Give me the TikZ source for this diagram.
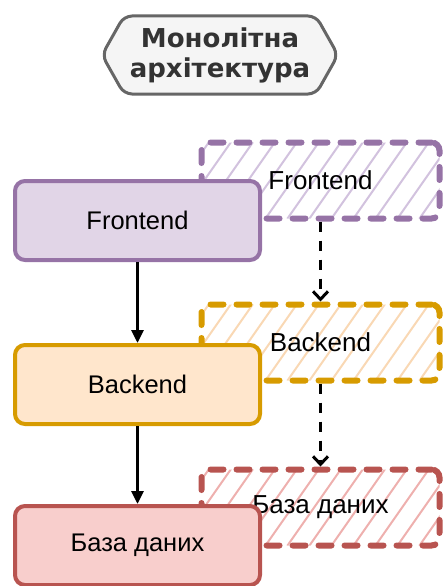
\documentclass[tikz,border=0pt]{standalone}
\usepackage{fontspec}
\setmainfont{Liberation Sans}
\newfontfamily\titlefont{DejaVu Sans}
\usetikzlibrary{arrows.meta,positioning,backgrounds}
\definecolor{frfill}{HTML}{E1D5E7}\definecolor{frline}{HTML}{9673A6}\definecolor{frhatch}{HTML}{D2C2DE}
\definecolor{befill}{HTML}{FFE6CC}\definecolor{beline}{HTML}{D79B00}\definecolor{behatch}{HTML}{F9D8B4}
\definecolor{dbfill}{HTML}{F8CECC}\definecolor{dbline}{HTML}{B85450}\definecolor{dbhatch}{HTML}{EEB0AE}
\begin{document}
\begin{tikzpicture}[x=1pt,y=-1pt,
    box/.style={draw=#1line,fill=#1fill,line width=4pt,rounded corners=10pt,minimum width=245pt,minimum height=79pt,font=\fontsize{25.5}{30}\selectfont},
    sk/.style={draw=#1line,line width=6pt,line cap=round,dash pattern=on 13pt off 13pt,rounded corners=8pt,minimum width=238pt,minimum height=76pt,font=\fontsize{26}{30}\selectfont,
        path picture={\foreach \k in {0,...,16} \draw[#1hatch,line width=2pt,solid] ([xshift=\k*22pt-90pt]path picture bounding box.south west) -- ++(55:140pt);}},
    arr/.style={-{Triangle[length=13pt,width=12pt]},line width=3pt},
    darr/.style={-{Straight Barb[length=8pt,width=15pt,line width=3pt]},line width=3pt,dash pattern=on 10pt off 9pt}]
    \useasboundingbox (0,0) rectangle (442,586);
    % title
    \node[minimum width=192pt,minimum height=78pt,inner sep=0pt,outer sep=0pt,align=center,text=black!80,
        font=\titlefont\bfseries\fontsize{26}{30}\selectfont] (title) at (220,55) {Монолітна\\архітектура};
    \begin{scope}[on background layer]
        \draw[draw=black!60,fill=black!4,line width=3pt,rounded corners=8pt] ([xshift=-22pt]title.west) -- (title.north west) -- (title.north east) -- ([xshift=22pt]title.east) -- (title.south east) -- (title.south west) -- cycle;
    \end{scope}
    % sketch boxes
    \node[sk=fr] (skfe) at (320.5,180.5) {Frontend};
    \node[sk=be] (skbe) at (320.5,342.5) {Backend};
    \node[sk=db] (skdb) at (320.5,507.5) {База даних};
    \draw[darr] (skfe) -- (skbe);
    \draw[darr] (skbe) -- (skdb);
    % boxes
    \node[box=fr] (fe) at (137.5,220.5) {Frontend};
    \node[box=be] (be) at (137.5,384.5) {Backend};
    \node[box=db] (db) at (137.5,545.5) {База даних};
    \draw[arr] (fe) -- (be);
    \draw[arr] (be) -- (db);
\end{tikzpicture}
\end{document}
